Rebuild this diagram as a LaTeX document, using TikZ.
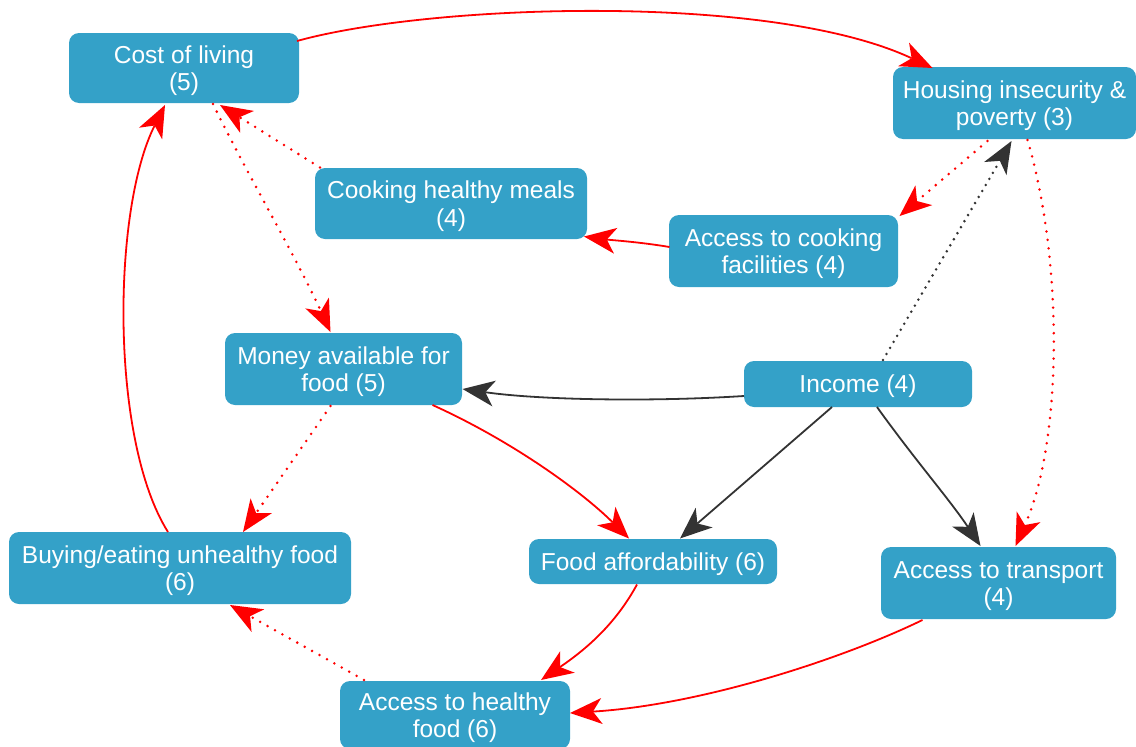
\documentclass[tikz,border=0pt]{standalone}
\usepackage{fontspec}
\setmainfont{Liberation Sans}
\usetikzlibrary{arrows.meta,calc}
\definecolor{boxblue}{RGB}{52,161,200}
\definecolor{darkline}{RGB}{51,51,51}
\definecolor{redline}{RGB}{255,0,0}
\newcommand\tstrut{\rule{0pt}{23pt}}
\tikzset{
  box/.style={rectangle, rounded corners=10pt, fill=boxblue, text=white,
    align=center, inner sep=0pt, font=\fontsize{24.5}{27.5}\selectfont},
  tip/.style={-{Stealth[length=32pt,width=26pt,inset=9pt,line width=0pt]}},
  redsolid/.style={tip, draw=redline, line width=1.8pt},
  reddot/.style={tip, draw=redline, line width=2.8pt, line cap=round, dash pattern=on 0pt off 8.5pt},
  blacksolid/.style={tip, draw=darkline, line width=1.8pt},
  blackdot/.style={tip, draw=darkline, line width=2.8pt, line cap=round, dash pattern=on 0pt off 7pt},
}
\begin{document}
\begin{tikzpicture}[x=1pt,y=-1pt]
\useasboundingbox (0,0) rectangle (1136,747);
% nodes
\node[box, minimum width=230pt, minimum height=70pt] (cost) at (184,68) {\tstrut Cost of living\\(5)};
\node[box, minimum width=243pt, minimum height=72pt] (housing) at (1014.5,103) {\tstrut Housing insecurity \&\\poverty (3)};
\node[box, minimum width=272pt, minimum height=71pt] (meals) at (451,203.5) {\tstrut Cooking healthy meals\\(4)};
\node[box, minimum width=229pt, minimum height=72pt] (facil) at (783.5,251) {\tstrut Access to cooking\\facilities (4)};
\node[box, minimum width=237pt, minimum height=72pt] (money) at (343.5,369) {\tstrut Money available for\\food (5)};
\node[box, minimum width=228pt, minimum height=46pt] (income) at (858,384) {\tstrut Income (4)};
\node[box, minimum width=342pt, minimum height=72pt] (buying) at (180,568) {\tstrut Buying/eating unhealthy food\\(6)};
\node[box, minimum width=248pt, minimum height=45pt] (afford) at (653,561.5) {\tstrut Food affordability (6)};
\node[box, minimum width=235pt, minimum height=72pt] (transport) at (998.5,583) {\tstrut Access to transport\\(4)};
\node[box, minimum width=230pt, minimum height=68pt] (healthy) at (455,715) {\tstrut Access to healthy\\food (6)};
% connectors
\draw[redsolid] ($(cost)+(113,-27)$) .. controls (430,4) and (770,-8) .. ($(housing)+(-82,-35)$);
\draw[reddot] ($(housing)+(-27,38)$) -- ($(facil)+(116,-35)$);
\draw[blackdot] ($(income)+(25,-24)$) -- ($(housing)+(-3,38)$);
\draw[reddot] ($(housing)+(13,37)$) .. controls (1063,260) and (1063,440) .. ($(transport)+(17,-37)$);
\draw[redsolid] ($(facil)+(-114,-4)$) .. controls (640,242) and (610,240) .. ($(meals)+(133,33)$);
\draw[reddot] ($(meals)+(-131,-36)$) -- ($(cost)+(36,37)$);
\draw[reddot] ($(cost)+(29,36)$) .. controls (245,170) and (295,255) .. ($(money)+(-13,-37)$);
\draw[redsolid] ($(buying)+(-12,-36)$) .. controls (110,440) and (112,210) .. ($(cost)+(-19,37)$);
\draw[blacksolid] ($(income)+(-114,12)$) .. controls (650,402) and (540,400) .. ($(money)+(119,20)$);
\draw[blacksolid] ($(income)+(-26,23)$) -- ($(afford)+(27,-23)$);
\draw[blacksolid] ($(income)+(19,23)$) .. controls (915,460) and (950,500) .. ($(transport)+(-18,-37)$);
\draw[redsolid] ($(money)+(89,36)$) .. controls (510,440) and (580,490) .. ($(afford)+(-24,-23)$);
\draw[reddot] ($(money)+(-13,37)$) -- ($(buying)+(63,-36)$);
\draw[redsolid] ($(afford)+(-16,23)$) .. controls (615,625) and (585,650) .. ($(healthy)+(86,-35)$);
\draw[redsolid] ($(transport)+(-76,37)$) .. controls (840,660) and (700,705) .. ($(healthy)+(115,-2)$);
\draw[reddot] ($(healthy)+(-91,-35)$) -- ($(buying)+(50,37)$);
\end{tikzpicture}
\end{document}
